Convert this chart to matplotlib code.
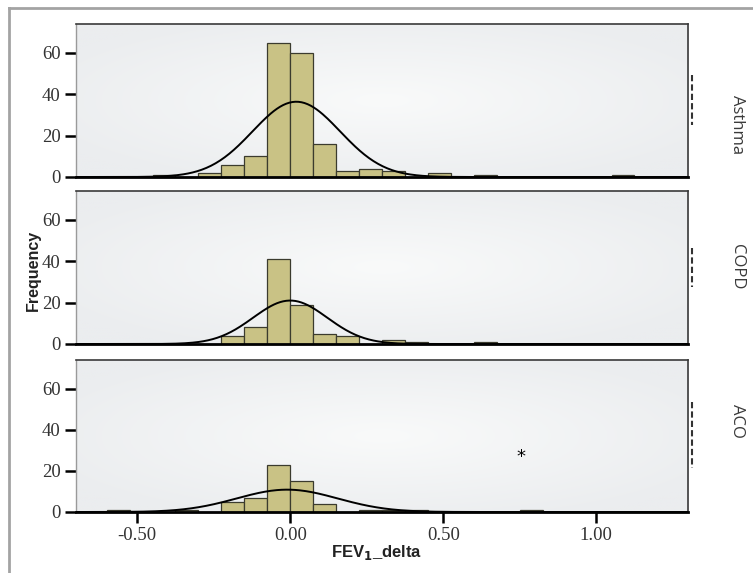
import numpy as np
import matplotlib
matplotlib.use("Agg")
import matplotlib.pyplot as plt
from matplotlib.lines import Line2D

# histogram data (bin width 0.075)
bin_width = 0.075
groups = ["Asthma", "COPD", "ACO"]

asthma_lefts = [-0.45, -0.30, -0.225, -0.15, -0.075, 0.0, 0.075, 0.15, 0.225, 0.30, 0.45, 0.60, 1.05]
asthma_counts = [1, 2, 6, 10, 65, 60, 16, 3, 4, 3, 2, 1, 1]

copd_lefts = [-0.225, -0.15, -0.075, 0.0, 0.075, 0.15, 0.30, 0.375, 0.60]
copd_counts = [4, 8, 41, 19, 5, 4, 2, 1, 1]

aco_lefts = [-0.60, -0.375, -0.225, -0.15, -0.075, 0.0, 0.075, 0.225, 0.30, 0.375, 0.75]
aco_counts = [1, 1, 5, 7, 23, 15, 4, 1, 1, 1, 1]

# fitted normal curve parameters (mean, sd)
curve_mu = [0.02, 0.0, -0.01]
curve_sd = [0.143, 0.121, 0.165]

y_ticks = [0, 20, 40, 60]
x_ticks = [-0.50, 0.00, 0.50, 1.00]
x_ticklabels = ["-0.50", "0.00", "0.50", "1.00"]

lefts_all = [asthma_lefts, copd_lefts, aco_lefts]
counts_all = [asthma_counts, copd_counts, aco_counts]

W, H = 753, 573
fig = plt.figure(figsize=(W / 100, H / 100), dpi=100)
fig.patch.set_facecolor("white")

# outer frame (top and left)
fig.add_artist(Line2D([9 / W, 9 / W], [0, 1 - 8 / H], color="#a3a3a3", lw=2))
fig.add_artist(Line2D([9 / W, 1], [1 - 8 / H, 1 - 8 / H], color="#a3a3a3", lw=2))

panels = [(24, 177), (191, 344), (360, 512)]
label_y = [125, 267, 421]
dash_spans = [(75, 125), (248, 287), (402, 468)]

# soft radial background for the panels
gy, gx = np.mgrid[-1:1:200j, -1:1:300j]
r = np.clip(np.sqrt(gx ** 2 * 0.7 + gy ** 2 * 0.7), 0, 1)
c0 = np.array([249, 250, 250]) / 255
c1 = np.array([235, 237, 239]) / 255
bg = c0[None, None, :] * (1 - r[..., None]) + c1[None, None, :] * r[..., None]

xx = np.linspace(-0.70, 1.30, 400)

for i, (top, bot) in enumerate(panels):
    ax = fig.add_axes([76 / W, 1 - bot / H, 612 / W, (bot - top) / H])
    ax.imshow(bg, extent=[0, 1, 0, 1], transform=ax.transAxes, aspect="auto", zorder=0)
    ax.bar(lefts_all[i], counts_all[i], width=bin_width, align="edge",
           color="#c9c285", edgecolor="#3b3b2e", linewidth=0.9, zorder=2)
    n = sum(counts_all[i])
    yy = n * bin_width / (curve_sd[i] * np.sqrt(2 * np.pi)) * np.exp(-0.5 * ((xx - curve_mu[i]) / curve_sd[i]) ** 2)
    ax.plot(xx, yy, color="black", lw=1.4, zorder=3)

    ax.set_xlim(-0.70, 1.30)
    ax.set_ylim(0, 74)
    ax.set_yticks(y_ticks)
    ax.set_yticklabels([str(t) for t in y_ticks], family="Liberation Serif", fontsize=13.5, color="#333333")
    ax.tick_params(axis="y", length=8, width=1.8, pad=3, color="black")

    for s in ["top", "right"]:
        ax.spines[s].set_color("#3a3a3a")
        ax.spines[s].set_linewidth(1.2)
    ax.spines["left"].set_color("#9a9a9a")
    ax.spines["left"].set_linewidth(1.0)
    ax.spines["bottom"].set_color("black")
    ax.spines["bottom"].set_linewidth(2.0)

    if i < 2:
        ax.set_xticks([])
    else:
        ax.set_xticks(x_ticks)
        ax.set_xticklabels(x_ticklabels, family="Liberation Serif", fontsize=13.5, color="#333333")
        ax.tick_params(axis="x", length=8, width=1.8, pad=3, color="black")
        ax.text(0.755, 27, "*", ha="center", va="center", fontsize=13, zorder=4)

    # group label on the right
    fig.text(737 / W, 1 - label_y[i] / H, groups[i], rotation=-90, ha="center", va="center",
             family="Open Sans", fontsize=12, color="#3a3a3a")

    # clipped marks next to each panel
    d0, d1 = dash_spans[i]
    fig.add_artist(Line2D([692 / W, 692 / W], [1 - d0 / H, 1 - d1 / H], color="#333333",
                          lw=1.5, dashes=(3, 1.5)))

fig.text(33 / W, 1 - 270 / H, "Frequency", rotation=90, ha="center", va="center",
         family="Liberation Sans", fontweight="bold", fontsize=11.5, color="#222222")
fig.text(377 / W, 1 - 553 / H, r"FEV$_{\mathbf{1}}$_delta", ha="center", va="center",
         family="Liberation Sans", fontweight="bold", fontsize=12, color="#222222")

fig.savefig("out.png", dpi=100)
